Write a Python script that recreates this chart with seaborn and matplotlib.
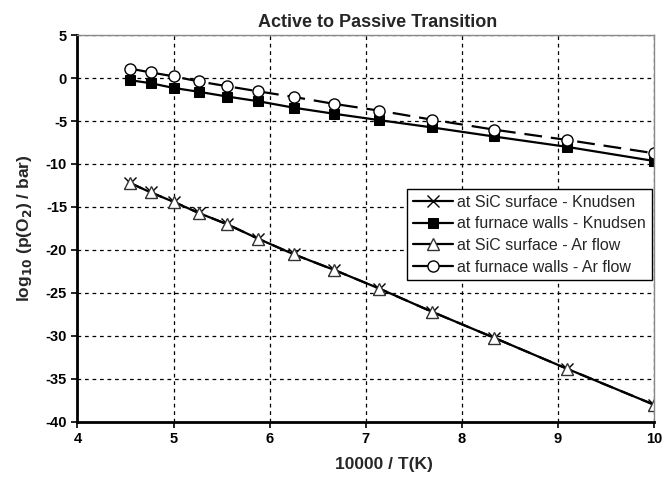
import numpy as np
import pandas as pd
import seaborn as sns
from matplotlib import pyplot as plt

# 10000 / T for T = 2200 ... 1000 K
x_vals = [4.545, 4.762, 5.0, 5.263, 5.556, 5.882, 6.25, 6.667, 7.143, 7.692, 8.333, 9.091, 10.0]

sic_knudsen = [-12.2, -13.3, -14.4, -15.7, -17.0, -18.7, -20.5, -22.3, -24.5, -27.2, -30.2, -33.8, -38.0]
walls_knudsen = [-0.25, -0.6, -1.15, -1.6, -2.15, -2.7, -3.45, -4.15, -4.9, -5.75, -6.8, -8.0, -9.65]
sic_ar = [-12.2, -13.3, -14.4, -15.7, -17.0, -18.7, -20.5, -22.3, -24.5, -27.2, -30.2, -33.8, -38.0]
walls_ar = [1.1, 0.65, 0.2, -0.4, -0.95, -1.55, -2.2, -3.0, -3.8, -4.85, -6.0, -7.2, -8.75]

labels = [
    "at SiC surface - Knudsen",
    "at furnace walls - Knudsen",
    "at SiC surface - Ar flow",
    "at furnace walls - Ar flow",
]


def main():
    sns.set_style("white")
    plt.rcParams["font.family"] = ["Liberation Sans", "DejaVu Sans"]
    plt.rcParams["axes.unicode_minus"] = False

    fig = plt.figure(figsize=(6.62, 4.8), dpi=100)
    ax = fig.add_axes([0.117, 0.121, 0.871, 0.806])

    series = [
        (sic_knudsen, dict(marker="x", ls="-", mfc="black", mec="black", ms=8, mew=1.0)),
        (walls_knudsen, dict(marker="s", ls="-", mfc="black", mec="black", ms=7)),
        (sic_ar, dict(marker="^", ls=(0, (6, 4)), mfc="white", mec="#333333", ms=8, mew=1.0)),
        (walls_ar, dict(marker="o", ls=(0, (8, 4)), mfc="white", mec="black", ms=8, mew=1.0)),
    ]
    for (vals, kw), lab in zip(series, labels):
        df = pd.DataFrame({"x": x_vals, "y": vals})
        sns.lineplot(data=df, x="x", y="y", ax=ax, color="black", lw=1.6,
                     label=lab, **kw)

    ax.set_xlim(4, 10)
    ax.set_ylim(-40, 5)
    ax.set_xticks(np.arange(4, 11, 1))
    ax.set_yticks(np.arange(-40, 6, 5))
    ax.grid(True, color="black", ls=(0, (3, 3)), lw=0.9)
    ax.tick_params(axis="both", direction="out", length=4, width=1.2,
                   labelsize=10.5, colors="black", left=True, bottom=True)
    for t in ax.get_xticklabels() + ax.get_yticklabels():
        t.set_fontweight("bold")

    for s in ["left", "bottom"]:
        ax.spines[s].set_color("black")
        ax.spines[s].set_linewidth(2)
    for s in ["top", "right"]:
        ax.spines[s].set_color("#888888")
        ax.spines[s].set_linewidth(1)

    ax.set_title("Active to Passive Transition", fontsize=13, fontweight="bold",
                 pad=6, x=0.521)
    ax.set_xlabel("10000 / T(K)", fontsize=12.5, fontweight="bold", labelpad=8, x=0.531)
    ax.set_ylabel(r"log$_{\mathbf{10}}$ (p(O$_{\mathbf{2}}$) / bar)", fontsize=12.5,
                  fontweight="bold", labelpad=8)

    leg = ax.legend(loc="upper right", bbox_to_anchor=(0.996, 0.602), fontsize=11.5,
                    frameon=True, fancybox=False, framealpha=1, edgecolor="black",
                    borderpad=0.35, labelspacing=0.42, handlelength=2.5, handletextpad=0.3,
                    borderaxespad=0)
    leg.get_frame().set_linewidth(1)
    for ln in leg.get_lines():
        ln.set_linestyle("-")

    fig.savefig("out.png", dpi=100)


if __name__ == "__main__":
    main()
